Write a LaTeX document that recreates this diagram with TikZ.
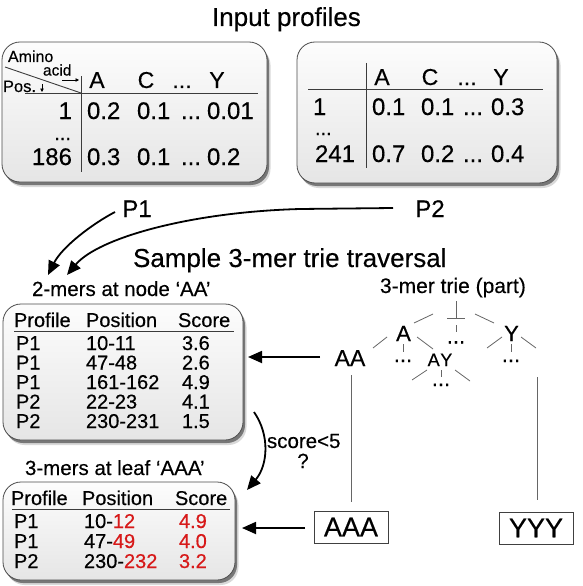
\documentclass[tikz,border=0pt]{standalone}
\usepackage{fontspec}
\setmainfont{Liberation Sans}[FakeBold=0.35]
\usetikzlibrary{arrows.meta,shadows}
\newcommand\myfs[1]{\fontsize{#1pt}{#1pt}\selectfont}
\definecolor{hl}{RGB}{215,25,25}
\definecolor{ln}{RGB}{60,60,60}
\newcommand\hlt[1]{\textcolor{hl}{#1}}
\begin{document}
\begin{tikzpicture}[x=1pt,y=-1pt,
 lbl/.style={inner sep=0pt, outer sep=0pt, font=\myfs{#1}},
 panel/.style={draw=black!70, line width=0.8pt, rounded corners=18pt, top color=black!1, bottom color=black!10, inner sep=0pt,
   drop shadow={shadow xshift=3.5pt, shadow yshift=-5pt, fill=black, opacity=.15},
   drop shadow={shadow xshift=2pt, shadow yshift=-3pt, fill=black, opacity=.45}},
 rule/.style={draw=ln, line width=0.9pt},
 trie/.style={draw=black!60, line width=0.8pt},
 arr/.style={draw=black, line width=1.8pt, -{Triangle[length=14pt,width=12pt]}},
 leaf/.style={draw=black!75, line width=0.9pt, fill=white, inner sep=0pt, minimum width=74pt, minimum height=32pt, font=\myfs{27}},
]
\useasboundingbox[fill=white] (0,0) rectangle (582,586);

% titles
\node[lbl=26, anchor=base west] (t1) at (212,26) {Input profiles};
\node[lbl=26, anchor=base west] (t2) at (133,267) {Sample 3-mer trie traversal};

% profile panels
\node[panel, minimum width=265pt, minimum height=140pt] (b1) at (134.5,112) {};
\node[panel, minimum width=260pt, minimum height=141pt] (b2) at (427,112.5) {};

% P1 table
\draw[rule] (5,67) -- (81,93);
\draw[rule] (25,93) -- (258,93);
\draw[rule] (81,76) -- (81,172);
\node[lbl=16, anchor=base west, text depth=0pt] (amino) at (8,62) {Amino};
\node[lbl=15.5, anchor=base west, text height=8pt, text depth=0pt] (acid) at (43,75.5) {acid};
\draw[line width=0.6pt, -{Triangle[length=3.5pt,width=3.5pt]}] (62,80) -- (79,80);
\node[lbl=16.5, anchor=base west, text height=10pt] (pos) at (3,92) {Pos.};
\draw[line width=0.6pt, -{Triangle[length=3.5pt,width=3.5pt]}] (42,84) -- (42,92);
\node[lbl=23, anchor=base] (h1a) at (97,88) {A};
\node[lbl=23, anchor=base] (h1c) at (146,88) {C};
\node[lbl=23, anchor=base] (h1d) at (182,88) {...};
\node[lbl=23, anchor=base] (h1y) at (217,88) {Y};
\node[lbl=24, anchor=base east] (r1) at (72,119) {1};
\node[lbl=20, anchor=base east] (r1d) at (71,140) {...};
\node[lbl=24, anchor=base east] (r186) at (72,165) {186};
\node[lbl=24, anchor=base west] (v11) at (87,119) {0.2};
\node[lbl=24, anchor=base west] (v12) at (137,119) {0.1};
\node[lbl=24, anchor=base west] (v13) at (181,119) {...};
\node[lbl=24, anchor=base west] (v14) at (207,119) {0.01};
\node[lbl=24, anchor=base west] (v21) at (87,165) {0.3};
\node[lbl=24, anchor=base west] (v22) at (137,165) {0.1};
\node[lbl=24, anchor=base west] (v23) at (181,165) {...};
\node[lbl=24, anchor=base west] (v24) at (207,165) {0.2};

% P2 table
\draw[rule] (308,89) -- (543,89);
\draw[rule] (366,63) -- (366,168);
\node[lbl=23, anchor=base] (h2a) at (382,85) {A};
\node[lbl=23, anchor=base] (h2c) at (430,85) {C};
\node[lbl=23, anchor=base] (h2d) at (467,85) {...};
\node[lbl=23, anchor=base] (h2y) at (501,85) {Y};
\node[lbl=24, anchor=base west] (s1) at (313,115) {1};
\node[lbl=20, anchor=base west] (s1d) at (315,135) {...};
\node[lbl=24, anchor=base west] (s241) at (315,162) {241};
\node[lbl=24, anchor=base west] (w11) at (372,115) {0.1};
\node[lbl=24, anchor=base west] (w12) at (421,115) {0.1};
\node[lbl=24, anchor=base west] (w13) at (463,115) {...};
\node[lbl=24, anchor=base west] (w14) at (491,115) {0.3};
\node[lbl=24, anchor=base west] (w21) at (372,162) {0.7};
\node[lbl=24, anchor=base west] (w22) at (421,162) {0.2};
\node[lbl=24, anchor=base west] (w23) at (463,162) {...};
\node[lbl=24, anchor=base west] (w24) at (491,162) {0.4};

% P1 / P2 labels and arrows
\node[lbl=24, anchor=base] (p1) at (137,217) {P1};
\node[lbl=24, anchor=base] (p2) at (430,217) {P2};
\coordinate (p1s) at (115,212);
\coordinate (p2s) at (393,208);
\coordinate (p2m) at (300,209);
\coordinate (tipa) at (48,275);
\coordinate (tipb) at (67,275);
\draw[arr] (p1s) .. controls (92,224) and (62,247) .. (tipa);
\draw[arr] (p2s) -- (p2m) .. controls (190,212) and (98,238) .. (tipb);

% labels
\node[lbl=20.5, anchor=base west] (l2) at (32,296) {2-mers at node ‘AA’};
\node[lbl=21, anchor=base west] (l3) at (380,293) {3-mer trie (part)};
\node[lbl=20.5, anchor=base west] (l4) at (25,475) {3-mers at leaf ‘AAA’};

% 2-mers panel
\node[panel, minimum width=240pt, minimum height=136pt] (b3) at (123,372) {};
\node[lbl=20, anchor=base west] (c1) at (14,327) {Profile};
\node[lbl=20, anchor=base west] (c2) at (86,327) {Position};
\node[lbl=20, anchor=base west] (c3) at (178,327) {Score};
\draw[rule] (14,331) -- (234,331);
\foreach \y/\p/\q/\s [count=\i] in {350/P1/10-11/3.6, 369.5/P1/47-48/2.6, 389/P1/161-162/4.9, 408.5/P2/22-23/4.1, 428/P2/230-231/1.5}{
  \node[lbl=20, anchor=base west] (ta\i) at (16,\y) {\p};
  \node[lbl=20, anchor=base west] (tb\i) at (86,\y) {\q};
  \node[lbl=20, anchor=base west] (tc\i) at (182,\y) {\s};
}

% 3-mers panel
\node[panel, minimum width=232pt, minimum height=98pt] (b4) at (119,531) {};
\node[lbl=20, anchor=base west] (d1) at (11,505) {Profile};
\node[lbl=20, anchor=base west] (d2) at (82,505) {Position};
\node[lbl=20, anchor=base west] (d3) at (175,505) {Score};
\draw[rule] (12,509) -- (230,509);
\node[lbl=20, anchor=base west] (ua1) at (14,528) {P1};
\node[lbl=20, anchor=base west] (ub1) at (84,528) {10-\hlt{12}};
\node[lbl=20, anchor=base west] (uc1) at (179,528) {\hlt{4.9}};
\node[lbl=20, anchor=base west] (ua2) at (14,548) {P1};
\node[lbl=20, anchor=base west] (ub2) at (84,548) {47-\hlt{49}};
\node[lbl=20, anchor=base west] (uc2) at (179,548) {\hlt{4.0}};
\node[lbl=20, anchor=base west] (ua3) at (14,568) {P2};
\node[lbl=20, anchor=base west] (ub3) at (84,568) {230-\hlt{232}};
\node[lbl=20, anchor=base west] (uc3) at (179,568) {\hlt{3.2}};

% trie
\node[lbl=23, anchor=base] (aa) at (350,366) {AA};
\node[lbl=22, anchor=base] (na) at (403.5,341) {A};
\node[lbl=22, anchor=base] (ny) at (511.5,341) {Y};
\node[lbl=18, anchor=base] (ay) at (440,366) {A\kern0.6pt Y};
\node[lbl=22, anchor=base] (dr) at (456,343.5) {...};
\node[lbl=22, anchor=base] (da) at (403,362) {...};
\node[lbl=22, anchor=base] (day) at (441,386) {...};
\node[lbl=22, anchor=base] (dy) at (511,362) {...};
\coordinate (root) at (456,318);
\draw[trie] (456,301) -- (root);
\draw[trie] (447,318) -- (465,318);
\draw[trie] (433,314) -- (414,323);
\draw[trie] (475,314) -- (494,323);
\draw[trie] (456,325) -- (456,332);
\draw[trie] (387,337) -- (373,348);
\draw[trie] (417,337) -- (433,349);
\draw[trie] (403,344) -- (403,352);
\draw[trie] (427,370) -- (412,380);
\draw[trie] (455,370) -- (470,381);
\draw[trie] (441,370) -- (441,377);
\draw[trie] (502,337) -- (487,348);
\draw[trie] (521,337) -- (536,348);
\draw[trie] (511,344) -- (511,352);
\node[leaf] (aaa) at (351,527) {AAA};
\node[leaf] (yyy) at (536,528) {YYY};
\coordinate (aadown) at (351,375);
\coordinate (aaabove) at (351,502);
\coordinate (ydown) at (537,377);
\coordinate (yabove) at (537,500);
\draw[trie] (aadown) -- (aaabove);
\draw[trie] (ydown) -- (yabove);

% traversal arrows
\coordinate (aal) at (320,357);
\coordinate (b3r) at (248,357);
\coordinate (aaal) at (305,528);
\coordinate (b4r) at (242,528);
\draw[arr] (aal) -- (b3r);
\draw[arr] (aaal) -- (b4r);
\coordinate (sc1) at (254,412);
\coordinate (sc2) at (247,490);
\draw[arr] (sc1) .. controls (270,435) and (268,465) .. (sc2);
\node[lbl=20.5, anchor=base west] (sc) at (267,448) {score<5};
\node[lbl=20.5, anchor=base] (q) at (303,468) {?};
\end{tikzpicture}
\end{document}
